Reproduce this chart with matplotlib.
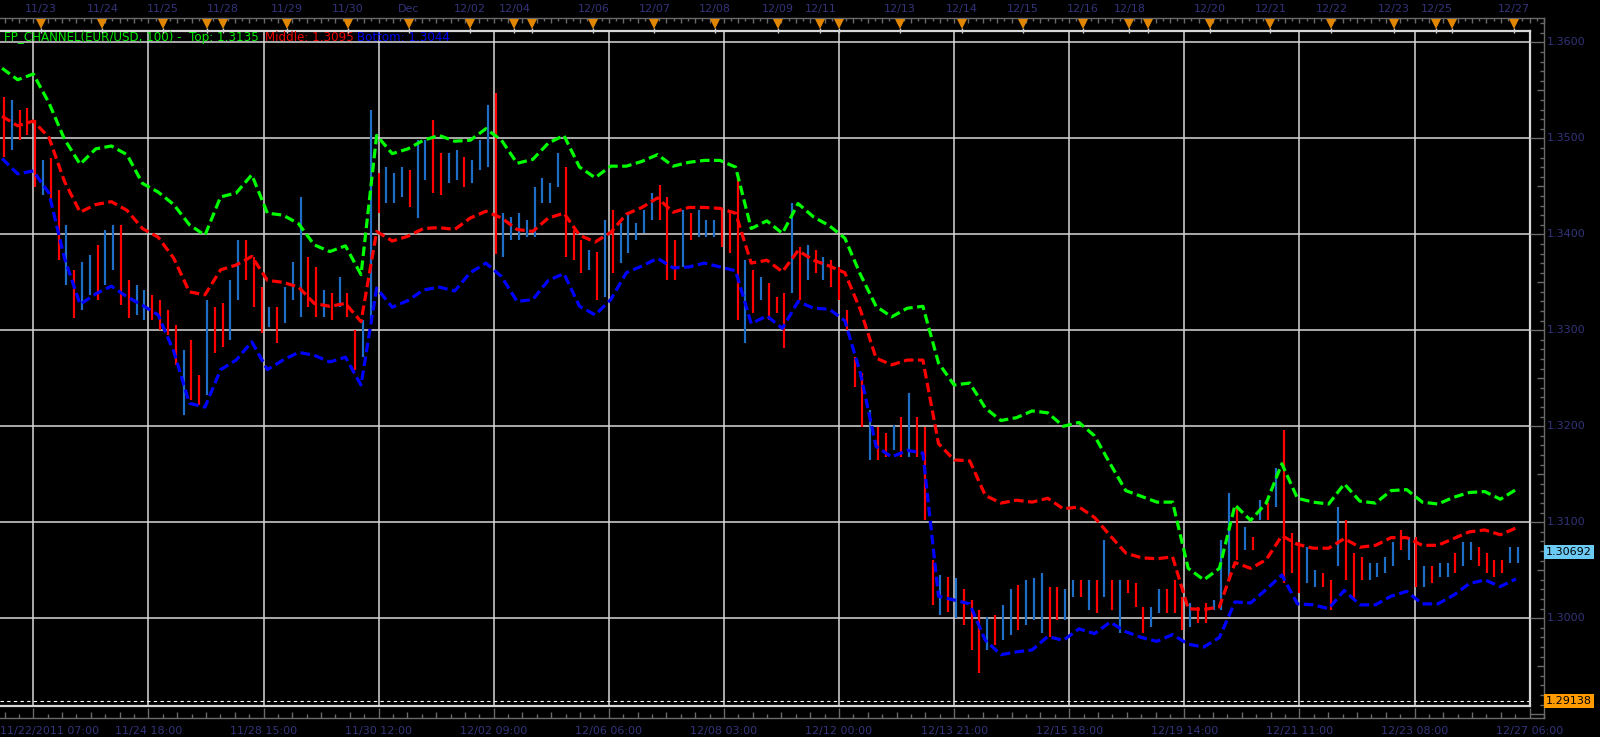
import matplotlib
matplotlib.use("Agg")
import matplotlib.pyplot as plt
import matplotlib.transforms as mtransforms
from matplotlib.lines import Line2D
from matplotlib.collections import LineCollection
import numpy as np

# FP_CHANNEL(EUR/USD, 100) bands, one value every 8 hours (first sample 16 h before 11/22 07:00)
top_band = [1.3573, 1.3561, 1.3567, 1.3537, 1.3499, 1.3473, 1.3489, 1.3492, 1.3483, 1.3453,
            1.3444, 1.3431, 1.3410, 1.3399, 1.3439, 1.3443, 1.3462, 1.3422, 1.3420, 1.3411,
            1.3389, 1.3382, 1.3388, 1.3358, 1.3503, 1.3484, 1.3489, 1.3498, 1.3503, 1.3497,
            1.3498, 1.3510, 1.3498, 1.3474, 1.3478, 1.3495, 1.3503, 1.3470, 1.3459, 1.3471,
            1.3471, 1.3476, 1.3483, 1.3471, 1.3475, 1.3477, 1.3477, 1.3470, 1.3406, 1.3414,
            1.3401, 1.3432, 1.3418, 1.3409, 1.3396, 1.3358, 1.3325, 1.3314, 1.3323, 1.3325,
            1.3266, 1.3243, 1.3245, 1.3219, 1.3206, 1.3209, 1.3216, 1.3214, 1.3200, 1.3204,
            1.3190, 1.3161, 1.3133, 1.3127, 1.3121, 1.3121, 1.3052, 1.3040, 1.3052, 1.3118,
            1.3102, 1.3120, 1.3161, 1.3125, 1.3121, 1.3119, 1.3140, 1.3122, 1.3120, 1.3133,
            1.3134, 1.3121, 1.3119, 1.3126, 1.3131, 1.3132, 1.3124, 1.3134]
mid_band = [1.3523, 1.3513, 1.3518, 1.3501, 1.3455, 1.3423, 1.3431, 1.3434, 1.3425, 1.3406,
            1.3397, 1.3375, 1.3340, 1.3337, 1.3363, 1.3368, 1.3377, 1.3352, 1.3350, 1.3345,
            1.3328, 1.3325, 1.3328, 1.3309, 1.3403, 1.3393, 1.3398, 1.3406, 1.3407, 1.3405,
            1.3417, 1.3424, 1.3417, 1.3405, 1.3403, 1.3417, 1.3422, 1.3399, 1.3392, 1.3402,
            1.3421, 1.3428, 1.3438, 1.3423, 1.3428, 1.3428, 1.3427, 1.3422, 1.3370, 1.3373,
            1.3361, 1.3383, 1.3373, 1.3367, 1.3360, 1.3321, 1.3271, 1.3264, 1.3269, 1.3269,
            1.3182, 1.3165, 1.3164, 1.3128, 1.3120, 1.3123, 1.3121, 1.3125, 1.3114, 1.3116,
            1.3105, 1.3086, 1.3068, 1.3063, 1.3062, 1.3064, 1.3010, 1.3009, 1.3012, 1.3058,
            1.3052, 1.3061, 1.3086, 1.3077, 1.3073, 1.3073, 1.3083, 1.3074, 1.3076, 1.3084,
            1.3084, 1.3076, 1.3076, 1.3083, 1.3090, 1.3092, 1.3087, 1.3094]
bot_band = [1.3479, 1.3463, 1.3466, 1.3443, 1.3375, 1.3327, 1.3338, 1.3346, 1.3335, 1.3326,
            1.3316, 1.3278, 1.3224, 1.3220, 1.3259, 1.3269, 1.3288, 1.3259, 1.3269, 1.3277,
            1.3274, 1.3267, 1.3272, 1.3243, 1.3344, 1.3324, 1.3331, 1.3342, 1.3345, 1.3341,
            1.3360, 1.3370, 1.3356, 1.3330, 1.3332, 1.3352, 1.3359, 1.3325, 1.3316, 1.3332,
            1.3360, 1.3367, 1.3375, 1.3365, 1.3366, 1.3370, 1.3366, 1.3362, 1.3307, 1.3315,
            1.3302, 1.3330, 1.3323, 1.3322, 1.3310, 1.3255, 1.3179, 1.3168, 1.3175, 1.3172,
            1.3023, 1.3019, 1.3015, 1.2977, 1.2962, 1.2965, 1.2967, 1.2981, 1.2977, 1.2989,
            1.2984, 1.2996, 1.2986, 1.2980, 1.2976, 1.2983, 1.2973, 1.2970, 1.2980, 1.3017,
            1.3016, 1.3030, 1.3045, 1.3015, 1.3014, 1.3010, 1.3029, 1.3014, 1.3014, 1.3023,
            1.3028, 1.3015, 1.3015, 1.3024, 1.3036, 1.3040, 1.3033, 1.3041]
band_last = {"Top": 1.3135, "Middle": 1.3095, "Bottom": 1.3044}

# price bars, one every 4 hours (first one centred 15 h before 11/22 07:00)
bar_high = [1.3543, 1.3540, 1.3529, 1.3532, 1.3519, 1.3477, 1.3480, 1.3446, 1.3410, 1.3363,
            1.3371, 1.3378, 1.3389, 1.3404, 1.3410, 1.3410, 1.3352, 1.3347, 1.3342, 1.3337,
            1.3332, 1.3321, 1.3306, 1.3279, 1.3290, 1.3253, 1.3332, 1.3324, 1.3328, 1.3352,
            1.3394, 1.3394, 1.3376, 1.3345, 1.3324, 1.3324, 1.3345, 1.3371, 1.3439, 1.3376,
            1.3366, 1.3342, 1.3339, 1.3356, 1.3339, 1.3300, 1.3311, 1.3529, 1.3464, 1.3470,
            1.3464, 1.3470, 1.3467, 1.3498, 1.3498, 1.3519, 1.3485, 1.3485, 1.3488, 1.3481,
            1.3477, 1.3498, 1.3535, 1.3547, 1.3422, 1.3418, 1.3422, 1.3415, 1.3449, 1.3459,
            1.3453, 1.3485, 1.3470, 1.3404, 1.3394, 1.3384, 1.3382, 1.3415, 1.3425, 1.3412,
            1.3422, 1.3412, 1.3425, 1.3443, 1.3451, 1.3439, 1.3394, 1.3425, 1.3422, 1.3425,
            1.3415, 1.3415, 1.3425, 1.3425, 1.3459, 1.3373, 1.3363, 1.3356, 1.3349, 1.3335,
            1.3339, 1.3433, 1.3387, 1.3389, 1.3384, 1.3376, 1.3373, 1.3366, 1.3321, 1.3272,
            1.3256, 1.3217, 1.3199, 1.3193, 1.3201, 1.3210, 1.3235, 1.3210, 1.3199, 1.3061,
            1.3045, 1.3043, 1.3042, 1.3030, 1.3019, 1.3009, 1.3001, 1.3003, 1.3014, 1.3030,
            1.3035, 1.3040, 1.3042, 1.3047, 1.3033, 1.3033, 1.3030, 1.3040, 1.3040, 1.3040,
            1.3040, 1.3082, 1.3040, 1.3040, 1.3040, 1.3037, 1.3012, 1.3012, 1.3030, 1.3030,
            1.3040, 1.3022, 1.3016, 1.3012, 1.3016, 1.3019, 1.3082, 1.3131, 1.3116, 1.3095,
            1.3085, 1.3123, 1.3120, 1.3157, 1.3196, 1.3089, 1.3079, 1.3074, 1.3050, 1.3047,
            1.3040, 1.3116, 1.3102, 1.3068, 1.3064, 1.3058, 1.3058, 1.3064, 1.3079, 1.3092,
            1.3085, 1.3085, 1.3054, 1.3054, 1.3058, 1.3058, 1.3068, 1.3079, 1.3079, 1.3074,
            1.3068, 1.3061, 1.3061, 1.3074, 1.3074]
bar_low = [1.3481, 1.3488, 1.3498, 1.3503, 1.3449, 1.3441, 1.3436, 1.3373, 1.3347, 1.3313,
           1.3321, 1.3337, 1.3332, 1.3347, 1.3363, 1.3326, 1.3313, 1.3316, 1.3311, 1.3311,
           1.3300, 1.3295, 1.3264, 1.3212, 1.3227, 1.3222, 1.3233, 1.3276, 1.3283, 1.3290,
           1.3332, 1.3352, 1.3324, 1.3297, 1.3303, 1.3287, 1.3308, 1.3332, 1.3314, 1.3324,
           1.3314, 1.3314, 1.3311, 1.3324, 1.3314, 1.3259, 1.3272, 1.3311, 1.3422, 1.3433,
           1.3433, 1.3439, 1.3428, 1.3417, 1.3457, 1.3443, 1.3441, 1.3453, 1.3457, 1.3449,
           1.3453, 1.3467, 1.3470, 1.3379, 1.3376, 1.3394, 1.3394, 1.3397, 1.3397, 1.3433,
           1.3433, 1.3449, 1.3376, 1.3373, 1.3360, 1.3363, 1.3332, 1.3335, 1.3360, 1.3370,
           1.3381, 1.3394, 1.3401, 1.3415, 1.3415, 1.3352, 1.3352, 1.3366, 1.3394, 1.3397,
           1.3397, 1.3397, 1.3387, 1.3381, 1.3311, 1.3287, 1.3318, 1.3332, 1.3311, 1.3318,
           1.3282, 1.3339, 1.3332, 1.3352, 1.3360, 1.3352, 1.3345, 1.3332, 1.3300, 1.3241,
           1.3199, 1.3165, 1.3165, 1.3168, 1.3175, 1.3168, 1.3168, 1.3168, 1.3102, 1.3014,
           1.3003, 1.3007, 1.3000, 1.2993, 1.2967, 1.2943, 1.2967, 1.2972, 1.2977, 1.2983,
           1.2988, 1.2993, 1.2998, 1.2985, 1.2981, 1.2998, 1.2998, 1.3022, 1.3022, 1.3009,
           1.3006, 1.3022, 1.3009, 1.2985, 1.3026, 1.3012, 1.2985, 1.2991, 1.3006, 1.3006,
           1.3006, 1.2988, 1.2991, 1.2995, 1.2995, 1.3009, 1.3009, 1.3040, 1.3061, 1.3071,
           1.3071, 1.3102, 1.3102, 1.3116, 1.3037, 1.3047, 1.3026, 1.3037, 1.3033, 1.3033,
           1.3009, 1.3054, 1.3040, 1.3019, 1.3040, 1.3040, 1.3043, 1.3047, 1.3054, 1.3071,
           1.3061, 1.3033, 1.3033, 1.3037, 1.3043, 1.3043, 1.3047, 1.3054, 1.3061, 1.3054,
           1.3047, 1.3043, 1.3047, 1.3058, 1.3058]
# u = up bar (blue), d = down bar (red)
bar_dir = ("duddduddud" "uuduudduud" "dddudduddu" "uddduduuud" "dududduudu"
           "uuduudduud" "uuuduuuuuu" "uudddududu" "uuuudddudu" "uudddududd"
           "dudududddd" "duddududdd" "ududdduduu" "duuudduudu" "dududdduud"
           "ddudduuudu" "dududdduud" "duddduuuud" "ududuuduud" "ddduu")

# time axis: hours since 11/22/2011 07:00, one label every 59 h
bottom_labels = ["11/22/2011 07:00", "11/24 18:00", "11/28 15:00", "11/30 12:00",
                 "12/02 09:00", "12/06 06:00", "12/08 03:00", "12/12 00:00",
                 "12/13 21:00", "12/15 18:00", "12/19 14:00", "12/21 11:00",
                 "12/23 08:00", "12/27 06:00"]
HOURS_PER_LABEL = 59
top_days = ["11/23", "11/24", "11/25", "11/28", "11/29", "11/30", "Dec", "12/02", "12/04",
            "12/06", "12/07", "12/08", "12/09", "12/11", "12/13", "12/14", "12/15", "12/16",
            "12/18", "12/20", "12/21", "12/22", "12/23", "12/25", "12/27"]
top_day_hours = [3.9, 35.4, 66.6, 97.4, 129.9, 161.2, 192.6, 223.9, 246.6, 287.1, 318.4,
                 349.6, 381.5, 403.5, 444.1, 475.8, 507.2, 538.2, 561.9, 603.0, 634.1,
                 665.4, 697.3, 719.2, 758.8]
extra_marks = [89.2, 255.4, 412.8, 571.2, 727.1]

last_price = 1.30692
low_mark = 1.29138

assert len(bar_high) == len(bar_low) == len(bar_dir)

# ---------------------------------------------------------------------------
W, H = 1600, 737
plt.rcParams['font.family'] = 'DejaVu Sans'
plt.rcParams['font.size'] = 8

AXIS_CLR = '#6a6a6a'
LABEL_CLR = '#33347a'
GRID_CLR = '#d8d8d8'
FRAME_CLR = '#d8d8d8'

fig = plt.figure(figsize=(W / 100, H / 100), dpi=100, facecolor='black')


def fy(px):
    return 1 - px / H


def fx(px):
    return px / W


# plot area in pixels: x 0..1530, y 31..706
PLOT_R, PLOT_T, PLOT_B = 1530, 31, 706
ax = fig.add_axes([0, fy(PLOT_B), PLOT_R / W, (PLOT_B - PLOT_T) / H])
ax.set_facecolor('black')

px_per_hour = 115.1 / HOURS_PER_LABEL
x_lo = -17.07
x_hi = x_lo + PLOT_R / px_per_hour
y_lo, y_hi = 1.29086, 1.36118

# grid
for k in range(len(bottom_labels) - 1):
    ax.axvline(k * HOURS_PER_LABEL, color=GRID_CLR, lw=1.1, zorder=1)
price_levels = np.round(np.arange(1.30, 1.3601, 0.01), 2)
for p in price_levels:
    ax.axhline(p, color=GRID_CLR, lw=1.1, zorder=1)

ax.axhline(low_mark, color='white', lw=0.8, dashes=(3, 3), zorder=2)

# bars
bar_h = -15 + 4 * np.arange(len(bar_high))
bar_clr = ['#1e6ec8' if c == 'u' else '#ff0000' for c in bar_dir]
ax.vlines(bar_h, bar_low, bar_high, colors=bar_clr, lw=1.6, zorder=2)

# channel
band_h = -16 + 8 * np.arange(len(top_band))
for vals, clr in ((top_band, '#00ff00'), (mid_band, '#ff0000'), (bot_band, '#0000ff')):
    ax.plot(band_h, vals, color=clr, lw=2.3, dashes=(3, 1.4), zorder=3,
            dash_capstyle='butt')

ax.set_xlim(x_lo, x_hi)
ax.set_ylim(y_lo, y_hi)
ax.set_xticks([])
ax.set_yticks([])
for s in ('top', 'right', 'bottom'):
    ax.spines[s].set_color(FRAME_CLR)
    ax.spines[s].set_linewidth(1.6)
ax.spines['left'].set_visible(False)


def ay(px):
    return (PLOT_B - px) / (PLOT_B - PLOT_T)


# indicator caption
cap = dict(transform=ax.transAxes, va='center', ha='left', zorder=5, fontsize=8.6)
ax.text(4 / PLOT_R, ay(38), f"FP_CHANNEL(EUR/USD, 100) -  Top: {band_last['Top']:.4f}",
        color='#00ee00', **cap)
ax.text(265 / PLOT_R, ay(38), f"Middle: {band_last['Middle']:.4f}", color='#ee0000', **cap)
ax.text(357 / PLOT_R, ay(38), f"Bottom: {band_last['Bottom']:.4f}", color='#0000ee', **cap)

# outer axis lines
AX_R, AX_T, AX_B = 1544, 18, 718
for xs, ys in (([0, AX_R], [AX_T, AX_T]), ([AX_R, AX_R], [AX_T, AX_B]), ([0, AX_R], [AX_B, AX_B])):
    fig.add_artist(Line2D([fx(v) for v in xs], [fy(v) for v in ys], color=AXIS_CLR,
                          lw=1.0, transform=fig.transFigure))

tr_hf = mtransforms.blended_transform_factory(ax.transData, fig.transFigure)
tr_fp = mtransforms.blended_transform_factory(fig.transFigure, ax.transData)
x_axis_end = x_lo + AX_R / px_per_hour

# bottom ticks
step = HOURS_PER_LABEL / 8
segs = []
for m in range(int(np.ceil(x_lo / step)), int(x_axis_end / step) + 1):
    ln = 10 if m % 8 == 0 else (6 if m % 2 == 0 else 4)
    segs.append([(m * step, fy(AX_B)), (m * step, fy(AX_B - ln))])
fig.add_artist(LineCollection(segs, colors=AXIS_CLR, lw=1.0, transform=tr_hf))

# top ticks
step_t = HOURS_PER_LABEL / 16
segs = []
for m in range(int(np.ceil(x_lo / step_t)), int(x_axis_end / step_t) + 1):
    ln = 5 if m % 2 == 0 else 3
    segs.append([(m * step_t, fy(AX_T)), (m * step_t, fy(AX_T + ln))])
fig.add_artist(LineCollection(segs, colors=AXIS_CLR, lw=1.0, transform=tr_hf))

# right ticks
segs = []
for m in range(1290, 1363):
    p = m / 1000
    ln = 14 if m % 10 == 0 else (7 if m % 5 == 0 else 4)
    segs.append([(fx(AX_R), p), (fx(AX_R - ln), p)])
fig.add_artist(LineCollection(segs, colors=AXIS_CLR, lw=1.0, transform=tr_fp))

for p in price_levels:
    fig.text(fx(AX_R + 3), p, f"{p:.4f}", transform=tr_fp, color=LABEL_CLR,
             va='center', ha='left')

# current price and low marker tags
fig.text(fx(AX_R + 2), last_price, f"{last_price:.5f}", transform=tr_fp, color='black',
         va='center', ha='left',
         bbox=dict(boxstyle='square,pad=0.15', fc='#6ccbf4', ec='none'))
fig.text(fx(AX_R + 2), low_mark, f"{low_mark:.5f}", transform=tr_fp, color='black',
         va='center', ha='left',
         bbox=dict(boxstyle='square,pad=0.15', fc='#ff9a00', ec='none'))

# bottom labels
for k, lab in enumerate(bottom_labels):
    h = k * HOURS_PER_LABEL
    if k == 0:
        fig.text(0, fy(731), lab, color=LABEL_CLR, va='center', ha='left')
    else:
        fig.text(h, fy(731), lab, transform=tr_hf, color=LABEL_CLR, va='center', ha='center')

# top day markers
for lab, h in zip(top_days, top_day_hours):
    fig.text(h, fy(9), lab, transform=tr_hf, color=LABEL_CLR, va='center', ha='center')
marks = top_day_hours + extra_marks
fig.add_artist(LineCollection([[(h, fy(28)), (h, fy(PLOT_T + 2))] for h in marks],
                              colors='#cfcfcf', lw=1.0, transform=tr_hf))
fig.add_artist(Line2D(marks, [fy(23.5)] * len(marks), transform=tr_hf, ls='none',
                      marker='v', markersize=7.5, color='#e08600', markeredgewidth=0))

fig.savefig('out.png', dpi=100, facecolor='black')
